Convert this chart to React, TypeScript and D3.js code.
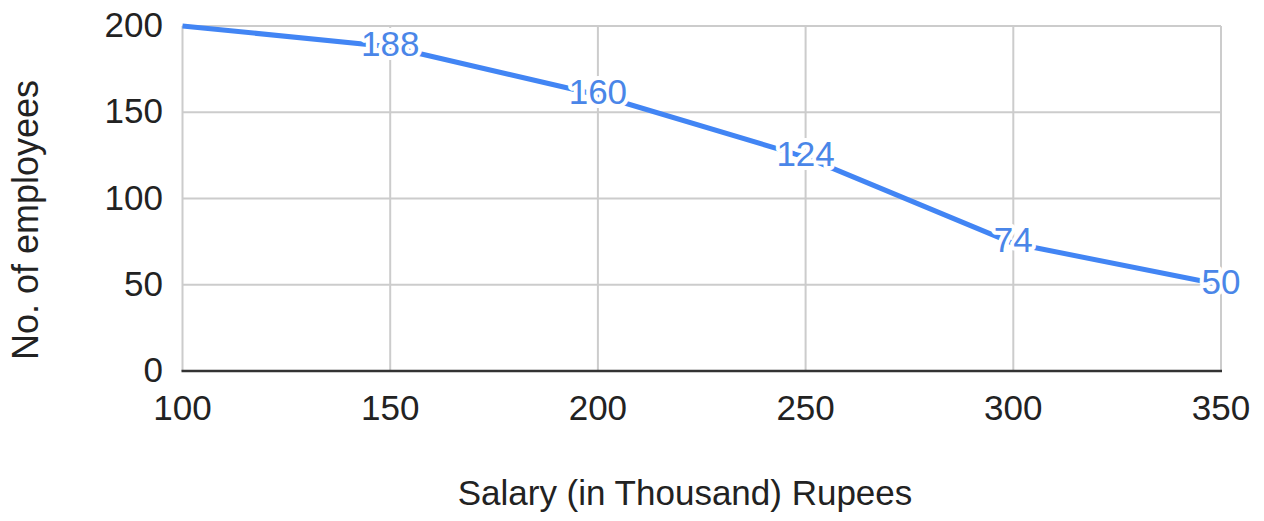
import React from "react"
import * as d3 from "d3"

// salary (thousand rupees) vs number of employees
const salaries = [100, 150, 200, 250, 300, 350]
const employees = [200, 188, 160, 124, 74, 50]
const yTicks = [0, 50, 100, 150, 200]

const width = 1264
const height = 521
const font = "'Liberation Sans', Arial, sans-serif"
const blue = "#4285f4"

const App = () => {
  const x = d3.scaleLinear().domain([100, 350]).range([182.5, 1221])
  const y = d3.scaleLinear().domain([0, 200]).range([371, 26])

  const line = d3
    .line<number>()
    .x((d, i) => x(salaries[i]))
    .y(d => y(d))

  return (
    <svg
      width={width}
      height={height}
      style={{ position: "absolute", left: 0, top: 0, background: "#fff" }}
      fontFamily={font}
    >
      {/* grid */}
      {yTicks.map(t => (
        <line key={"gy" + t} x1={x(100)} x2={x(350)} y1={y(t)} y2={y(t)} stroke="#cccccc" strokeWidth={2} />
      ))}
      {salaries.map(s => (
        <line key={"gx" + s} x1={x(s)} x2={x(s)} y1={y(200)} y2={y(0)} stroke="#cccccc" strokeWidth={2} />
      ))}
      <line x1={x(100) - 1} x2={x(350) + 1} y1={y(0)} y2={y(0)} stroke="#333" strokeWidth={2.5} />

      {/* y ticks */}
      {yTicks.map(t => (
        <text key={"ty" + t} x={163} y={y(t) + 11} textAnchor="end" fontSize={35} fill="#222">
          {t}
        </text>
      ))}
      {/* x ticks */}
      {salaries.map(s => (
        <text key={"tx" + s} x={x(s)} y={420} textAnchor="middle" fontSize={35} fill="#222">
          {s}
        </text>
      ))}

      <path d={line(employees) || ""} fill="none" stroke={blue} strokeWidth={5} strokeLinejoin="round" />

      {/* data labels with white halo */}
      {employees.map((v, i) =>
        i === 0 ? null : (
          <text
            key={"l" + i}
            x={x(salaries[i])}
            y={y(v) + 9}
            textAnchor="middle"
            fontSize={35}
            fill="#4a86e8"
            stroke="#fff"
            strokeWidth={8}
            strokeLinejoin="round"
            paintOrder="stroke"
          >
            {v}
          </text>
        )
      )}

      <text x={685} y={505} textAnchor="middle" fontSize={35} fill="#222">
        Salary (in Thousand) Rupees
      </text>
      <text
        transform={`translate(38,220) rotate(-90)`}
        textAnchor="middle"
        fontSize={36}
        fill="#222"
      >
        No. of employees
      </text>
    </svg>
  )
}

export default App
